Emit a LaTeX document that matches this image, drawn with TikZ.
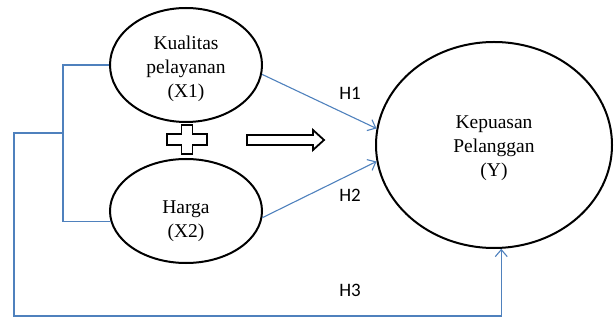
\documentclass[tikz,border=0pt]{standalone}
\usepackage{fontspec}
\setmainfont{Liberation Serif}
\newfontfamily\calib{Carlito}
\usetikzlibrary{arrows.meta,shapes.geometric}
\definecolor{lineblue}{RGB}{79,129,189}
\begin{document}
\begin{tikzpicture}[x=1pt,y=-1pt,
 ell/.style={ellipse, draw=black, line width=2pt, inner sep=0pt},
 conn/.style={draw=lineblue, line width=1.1pt},
 arr/.style={conn, -{Straight Barb[length=7pt,width=12pt]}},
 lbl/.style={font=\calib\fontsize{19}{22}\selectfont},
 txt/.style={align=center, font=\fontsize{19.5}{24}\selectfont},
 deco/.style={draw=black, fill=white, line width=1.8pt, line join=miter}]
\useasboundingbox (0,0) rectangle (615,320);
\node[ell, minimum width=152pt, minimum height=114pt] (x1) at (186,65) {};
\node[ell, minimum width=152pt, minimum height=104pt] (x2) at (186,211) {};
\node[ell, minimum width=236pt, minimum height=206pt] (y) at (494,145) {};
\node[txt] (t1) at (186,69) {Kualitas\\pelayanan\\(X1)};
\node[txt] (t2) at (186,221) {Harga\\(X2)};
\node[txt] (t3) at (494,148) {Kepuasan\\Pelanggan\\(Y)};
\node[lbl] (h1) at (350,93) {H1};
\node[lbl] (h2) at (350,195) {H2};
\node[lbl] (h3) at (350,290) {H3};
% plus sign
\draw[deco] (181.5,125) -- (192.5,125) -- (192.5,134) -- (207,134) -- (207,145) -- (192.5,145) -- (192.5,154) -- (181.5,154) -- (181.5,145) -- (167,145) -- (167,134) -- (181.5,134) -- cycle;
% hollow arrow
\draw[deco] (247,135) -- (313,135) -- (313,130) -- (324,140) -- (313,150) -- (313,145) -- (247,145) -- cycle;
% connectors
\coordinate (jx) at (63,133);
\coordinate (k) at (14,316);
\draw[arr] (x1.-7) -- (y.172);
\draw[arr] (x2.-5) -- (y.-172);
\draw[conn] (x1.west) -| (jx) |- (x2.188);
\draw[arr] (jx) -| (k) -| (y.-86);
\end{tikzpicture}
\end{document}
